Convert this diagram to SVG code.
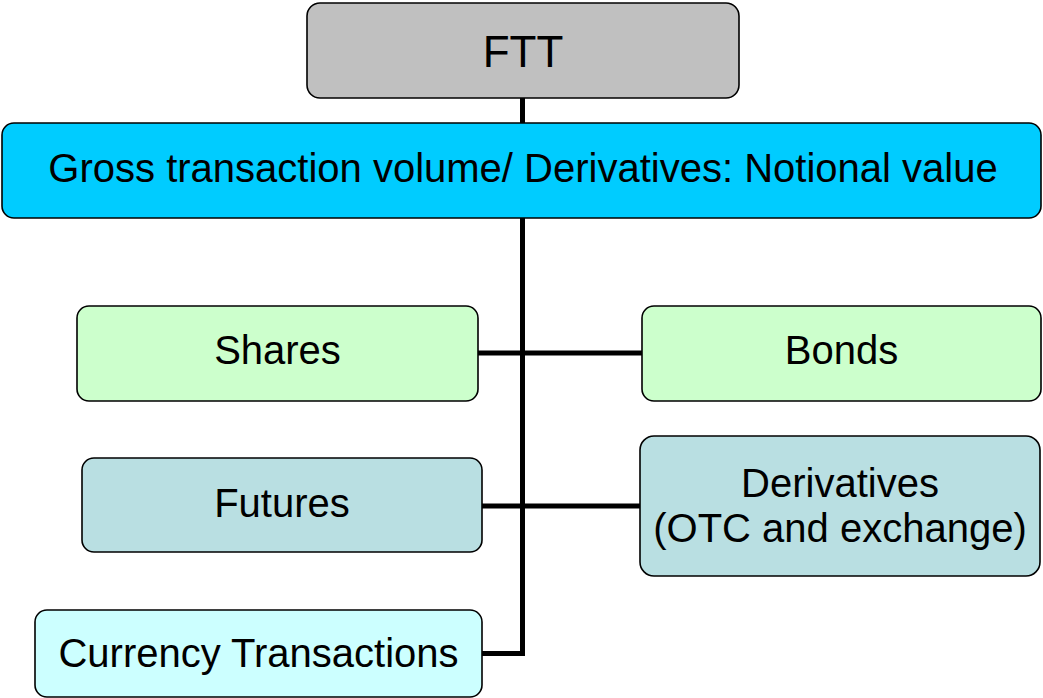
<svg xmlns="http://www.w3.org/2000/svg" width="1043" height="698" viewBox="0 0 1043 698">
<style>
.box{stroke:#000;stroke-width:1.6}
.t{font-family:"Liberation Sans",Arial,sans-serif;font-size:40px;fill:#000;text-anchor:middle}
.conn{fill:none;stroke:#000;stroke-width:5;stroke-linejoin:miter;stroke-linecap:butt}
</style>
<rect width="1043" height="698" fill="#fff"/>
<g id="connectors">
<path class="conn" d="M522.5 98 V656 M480 653.5 H525"/>
<path class="conn" d="M478 353 H642"/>
<path class="conn" d="M482 506 H640"/>
</g>
<g id="ftt">
<rect class="box" x="307" y="3" width="432" height="95" rx="13" fill="#C0C0C0"/>
<text class="t" x="523" y="67" style="font-size:44px">FTT</text>
</g>
<g id="gross">
<rect class="box" x="2" y="123" width="1039" height="95" rx="12" fill="#00CCFF"/>
<text class="t" x="523" y="182">Gross transaction volume/ Derivatives: Notional value</text>
</g>
<g id="shares">
<rect class="box" x="77" y="306" width="401" height="95" rx="12" fill="#CCFFCC"/>
<text class="t" x="277.5" y="364">Shares</text>
</g>
<g id="bonds">
<rect class="box" x="642" y="306" width="399" height="95" rx="12" fill="#CCFFCC"/>
<text class="t" x="841.5" y="364">Bonds</text>
</g>
<g id="futures">
<rect class="box" x="82" y="458" width="400" height="94" rx="12" fill="#B9DFE2"/>
<text class="t" x="282" y="517">Futures</text>
</g>
<g id="derivatives">
<rect class="box" x="640" y="436" width="400" height="140" rx="14" fill="#B9DFE2"/>
<text class="t" x="840" y="497">Derivatives</text>
<text class="t" x="840" y="542">(OTC and exchange)</text>
</g>
<g id="currency">
<rect class="box" x="35" y="610" width="447" height="87" rx="12" fill="#CCFFFF"/>
<text class="t" x="258.5" y="667">Currency Transactions</text>
</g>
</svg>
